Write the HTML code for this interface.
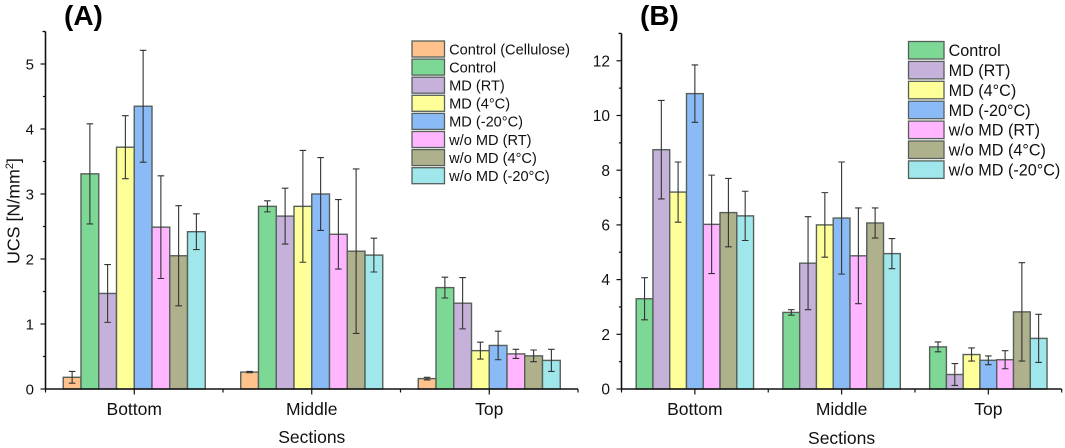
<!DOCTYPE html>
<html lang="en">
<head>
<meta charset="utf-8">
<title>UCS by section</title>
<style>
html,body{margin:0;padding:0;background:#fff;width:1065px;height:448px;overflow:hidden}
svg{display:block;font-family:"Liberation Sans",sans-serif;fill:#111}
</style>
</head>
<body>
<svg id="chart" xmlns="http://www.w3.org/2000/svg" width="1065" height="448" viewBox="0 0 1065 448">
  <text x="64" y="25" font-size="28" font-weight="bold" fill="#000">(A)</text>
  <text x="640" y="25" font-size="28" font-weight="bold" fill="#000">(B)</text>
  <g id="panel-a"></g>
  <g id="panel-b"></g>
</svg>
<script>
const categories = ['Bottom', 'Middle', 'Top'];

const seriesNamesA = ['Control (Cellulose)', 'Control', 'MD (RT)', 'MD (4°C)', 'MD (-20°C)', 'w/o MD (RT)', 'w/o MD (4°C)', 'w/o MD (-20°C)'];
const valuesA = [
  [0.18, 0.26, 0.16],
  [3.31, 2.81, 1.56],
  [1.47, 2.66, 1.32],
  [3.72, 2.81, 0.59],
  [4.35, 3.00, 0.67],
  [2.49, 2.38, 0.54],
  [2.05, 2.12, 0.51],
  [2.42, 2.06, 0.44]
];
const errorsA = [
  [0.09, 0.01, 0.02],
  [0.77, 0.085, 0.16],
  [0.445, 0.43, 0.395],
  [0.485, 0.86, 0.13],
  [0.86, 0.56, 0.22],
  [0.79, 0.535, 0.07],
  [0.77, 1.265, 0.09],
  [0.275, 0.26, 0.17]
];
const yTicksA = [0, 1, 2, 3, 4, 5];

const seriesNamesB = ['Control', 'MD (RT)', 'MD (4°C)', 'MD (-20°C)', 'w/o MD (RT)', 'w/o MD (4°C)', 'w/o MD (-20°C)'];
const valuesB = [
  [3.30, 2.80, 1.54],
  [8.75, 4.60, 0.53],
  [7.20, 6.00, 1.26],
  [10.80, 6.25, 1.05],
  [6.02, 4.87, 1.07],
  [6.45, 6.07, 2.82],
  [6.33, 4.95, 1.85]
];
const errorsB = [
  [0.77, 0.10, 0.18],
  [1.80, 1.70, 0.40],
  [1.10, 1.18, 0.24],
  [1.05, 2.05, 0.16],
  [1.80, 1.75, 0.33],
  [1.25, 0.55, 1.80],
  [0.90, 0.55, 0.88]
];
const yTicksB = [0, 2, 4, 6, 8, 10, 12];

const fillByName = {
  'Control (Cellulose)': '#FFC28D',
  'Control': '#7DD896',
  'MD (RT)': '#C6B1DA',
  'MD (4°C)': '#FFFF99',
  'MD (-20°C)': '#8BBBF7',
  'w/o MD (RT)': '#FFB5FF',
  'w/o MD (4°C)': '#AEB18B',
  'w/o MD (-20°C)': '#A0E7EC'
};

const NS = 'http://www.w3.org/2000/svg';
function make(parent, tag, attrs, text) {
  const el = document.createElementNS(NS, tag);
  for (const k in attrs) el.setAttribute(k, attrs[k]);
  if (text !== undefined) el.textContent = text;
  parent.appendChild(el);
  return el;
}
function slug(s) {
  return s.toLowerCase().replace(/°/g, '').replace(/[^a-z0-9]+/g, '-').replace(/^-|-$/g, '');
}

function drawPanel(cfg) {
  const root = document.getElementById(cfg.id);
  const groupW = (cfg.right - cfg.left) / cfg.categories.length;
  const barW = groupW * 0.8 / cfg.names.length;
  const xScale = function (c, s) { return cfg.left + groupW * c + groupW * 0.1 + barW * s; };
  const yScale = function (v) { return cfg.base - v * cfg.unit; };

  cfg.names.forEach(function (name, s) {
    cfg.categories.forEach(function (cat, c) {
      const v = cfg.values[s][c];
      const e = cfg.errors[s][c];
      const x = xScale(c, s);
      const bar = make(root, 'rect', {
        x: x, y: yScale(v), width: barW, height: cfg.base - yScale(v),
        fill: fillByName[name], stroke: '#56605a', 'stroke-width': 1.4
      });
      
      
      const cx = x + barW / 2;
      const eb = make(root, 'path', {
        d: 'M' + cx + ' ' + yScale(v + e) + 'V' + yScale(v - e) +
           'M' + (cx - 3.3) + ' ' + yScale(v + e) + 'h6.6' +
           'M' + (cx - 3.3) + ' ' + yScale(v - e) + 'h6.6',
        stroke: '#333', 'stroke-width': 1.1, fill: 'none'
      });
      
      
    });
  });

  const yAxis = make(root, 'line', {
    x1: cfg.left, x2: cfg.left, y1: yScale(cfg.yMax), y2: cfg.base + 0.8,
    stroke: '#111', 'stroke-width': 1.6
  });
  
  
  const xAxis = make(root, 'line', {
    x1: cfg.left, x2: cfg.right, y1: cfg.base, y2: cfg.base,
    stroke: '#111', 'stroke-width': 1.6
  });
  
  

  const step = cfg.yTicks[1] - cfg.yTicks[0];
  for (let i = 0; i * step / 2 <= cfg.yMax + 1e-6; i++) {
    const v = i * step / 2;
    const tick = make(root, 'line', {
      x1: cfg.left - (i % 2 ? 2.6 : 5), x2: cfg.left, y1: yScale(v), y2: yScale(v),
      stroke: '#111', 'stroke-width': 1.2
    });
    
    
  }
  const topCap = make(root, 'line', {
    x1: cfg.left - 3, x2: cfg.left, y1: yScale(cfg.yMax), y2: yScale(cfg.yMax),
    stroke: '#111', 'stroke-width': 1.2
  });
  
  
  cfg.yTicks.forEach(function (v) {
    const label = make(root, 'text', {
      x: cfg.left - cfg.tickGap, y: yScale(v) + cfg.tickSize * 0.36,
      'text-anchor': 'end', 'font-size': cfg.tickSize
    }, String(v));
    
    
  });

  for (let c = 0; c <= cfg.categories.length; c++) {
    const edge = make(root, 'line', {
      x1: cfg.left + groupW * c, x2: cfg.left + groupW * c, y1: cfg.base, y2: cfg.base + 3.5,
      stroke: '#111', 'stroke-width': 1.2
    });
    
    
  }
  cfg.categories.forEach(function (cat, c) {
    const cx = cfg.left + groupW * (c + 0.5);
    const tick = make(root, 'line', {
      x1: cx, x2: cx, y1: cfg.base, y2: cfg.base + 5.5,
      stroke: '#111', 'stroke-width': 1.2
    });
    
    
    const label = make(root, 'text', {
      x: cx, y: 415, 'text-anchor': 'middle', 'font-size': 17.5
    }, cat);
    
    
  });

  const xTitle = make(root, 'text', {
    x: (cfg.left + cfg.right) / 2, y: cfg.xTitleY, 'text-anchor': 'middle', 'font-size': 17.5
  }, 'Sections');
  
  

  cfg.names.forEach(function (name, s) {
    const y = cfg.legendY + s * cfg.legendPitch;
    const swatch = make(root, 'rect', {
      x: cfg.legendX, y: y, width: cfg.swatchW, height: cfg.swatchH,
      fill: fillByName[name], stroke: '#56605a', 'stroke-width': 1.3
    });
    
    
    const label = make(root, 'text', {
      x: cfg.legendX + cfg.swatchW + 4.6, y: y + cfg.swatchH / 2 + cfg.legendFont * 0.36,
      'font-size': cfg.legendFont
    }, name);
    
    
  });
}

drawPanel({
  id: 'panel-a', categories: categories, names: seriesNamesA, values: valuesA, errors: errorsA,
  yTicks: yTicksA, yMax: 5.5, left: 45.5, right: 578, base: 389, unit: 65,
  tickSize: 15, tickGap: 11.5, xTitleY: 443,
  legendX: 412, legendY: 41, legendPitch: 18.1, swatchW: 32.5, swatchH: 16, legendFont: 14.6
});
drawPanel({
  id: 'panel-b', categories: categories, names: seriesNamesB, values: valuesB, errors: errorsB,
  yTicks: yTicksB, yMax: 13, left: 621.5, right: 1061.7, base: 389, unit: 27.35,
  tickSize: 15.5, tickGap: 11.5, xTitleY: 444,
  legendX: 908.5, legendY: 41.5, legendPitch: 19.9, swatchW: 35.5, swatchH: 17.5, legendFont: 16.2
});

const yTitle = make(document.getElementById('chart'), 'text', {
  transform: 'translate(19.5,264) rotate(-90)', 'font-size': 17.8
});


make(yTitle, 'tspan', {}, 'UCS [N/mm');
make(yTitle, 'tspan', { 'font-size': 11, dy: -6.5 }, '2');
make(yTitle, 'tspan', { dy: 6.5 }, ']');
</script>
</body>
</html>
